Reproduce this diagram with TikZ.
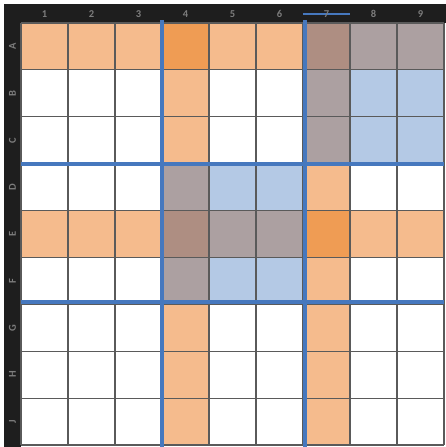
\documentclass[tikz,border=0pt]{standalone}
\usepackage{fontspec}
\setsansfont{Carlito}
\definecolor{hdr}{RGB}{30,30,30}
\definecolor{lbl}{RGB}{125,125,125}
\definecolor{oL}{RGB}{245,187,141}
\definecolor{oD}{RGB}{239,156,84}
\definecolor{bL}{RGB}{180,201,229}
\definecolor{gM}{RGB}{172,160,161}
\definecolor{brM}{RGB}{174,142,130}
\definecolor{gridc}{RGB}{90,90,90}
\definecolor{boxblue}{RGB}{70,120,190}
\newcommand{\cellfill}[3]{\fill[#3] ({21+47*(#1-1)},{23+46.89*(#2-1)}) rectangle ++(47,46.89);}
\begin{document}
\begin{tikzpicture}[x=1pt,y=-1pt,
  hdrlabel/.style={text=lbl,font=\sffamily\bfseries\fontsize{10.5}{10.5}\selectfont,inner sep=0pt},
  thinline/.style={draw=gridc,line width=1.2pt},
  boxline/.style={draw=boxblue,line width=4pt}]
\useasboundingbox (0,0) rectangle (446,447);
\fill[white] (0,0) rectangle (446,447);
% header bars
\fill[hdr] (4,4) rectangle (446,22.5);
\fill[hdr] (4,4) rectangle (21,447);
% cell fills
% row A
\foreach \c in {1,2,3,5,6} {\cellfill{\c}{1}{oL}}
\cellfill{4}{1}{oD}
\cellfill{7}{1}{brM}
\cellfill{8}{1}{gM}
\cellfill{9}{1}{gM}
% rows B, C
\foreach \r in {2,3} {
  \cellfill{4}{\r}{oL}
  \cellfill{7}{\r}{gM}
  \cellfill{8}{\r}{bL}
  \cellfill{9}{\r}{bL}
}
% rows D, F
\foreach \r in {4,6} {
  \cellfill{4}{\r}{gM}
  \cellfill{5}{\r}{bL}
  \cellfill{6}{\r}{bL}
  \cellfill{7}{\r}{oL}
}
% row E
\foreach \c in {1,2,3,8,9} {\cellfill{\c}{5}{oL}}
\cellfill{4}{5}{brM}
\cellfill{5}{5}{gM}
\cellfill{6}{5}{gM}
\cellfill{7}{5}{oD}
% rows G, H, J
\foreach \r in {7,8,9} {
  \cellfill{4}{\r}{oL}
  \cellfill{7}{\r}{oL}
}
% thin grid
\foreach \i in {0,...,9} {
  \draw[thinline] ({21+47*\i},23) -- ({21+47*\i},445);
  \draw[thinline] (21,{23+46.89*\i}) -- (444,{23+46.89*\i});
}
% thick box lines
\draw[boxline] (162,20) -- (162,447);
\draw[boxline] (305,20) -- (305,447);
\draw[boxline] (21,164) -- (444,164);
\draw[boxline] (21,302) -- (444,302);
\draw[draw=boxblue,line width=1.5pt] (303,14) -- (350,14);
% labels
\foreach \t [count=\i] in {1,2,3,4,5,6,7,8,9} {
  \node[hdrlabel] (col\i) at ({21+47*(\i-0.5)},14) {\t};
}
\foreach \t [count=\i] in {A,B,C,D,E,F,G,H,J} {
  \node[hdrlabel,rotate=90] (row\i) at (12.5,{23+46.89*(\i-0.5)}) {\t};
}
\end{tikzpicture}
\end{document}
